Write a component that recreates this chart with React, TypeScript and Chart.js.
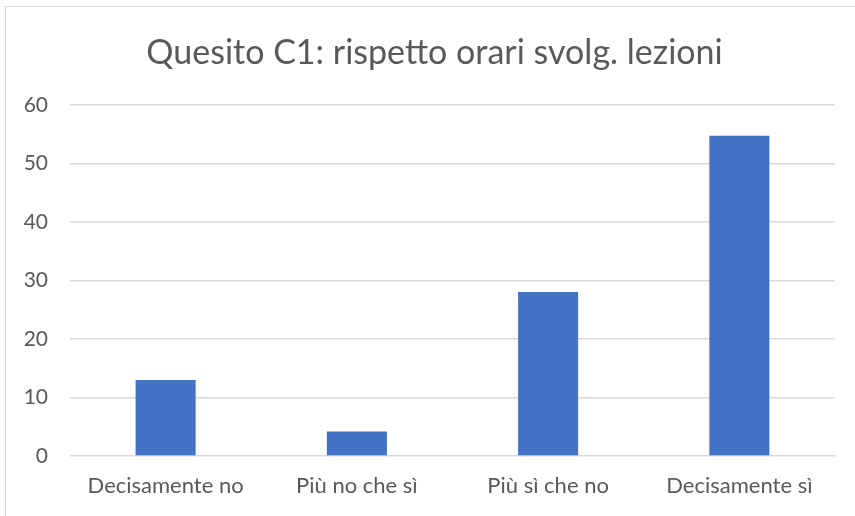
import React, { useEffect, useRef } from "react";
import { Chart, registerables } from "chart.js";

Chart.register(...registerables);

const categories = ["Decisamente no", "Più no che sì", "Più sì che no", "Decisamente sì"];
const values = [13, 4.2, 28, 54.7];
const titleText = "Quesito C1: rispetto orari svolg. lezioni";
const yMin = 0;
const yMax = 60;
const yStep = 10;

const TEXT = "#595959";
const GRID = "#d9d9d9";
const BAR = "#4472C4";
const FONT = "Lato";

const framePlugin = {
  id: "frame",
  afterLayout(chart: any) {
    const t = chart.titleBlock;
    if (t) {
      t.left = 34;
      t.width = t.right - t.left;
    }
  },
  beforeDraw(chart: any) {
    const ctx = chart.ctx;
    ctx.save();
    ctx.fillStyle = "#ffffff";
    ctx.fillRect(0, 0, chart.width, chart.height);
    ctx.strokeStyle = GRID;
    ctx.lineWidth = 1;
    ctx.strokeRect(5.5, 6.5, chart.width + 20, chart.height + 20);
    ctx.restore();
  },
};

export default function App() {
  const ref = useRef<HTMLCanvasElement | null>(null);
  useEffect(() => {
    document.body.style.margin = "0";
    const canvas = ref.current!;
    const chart = new Chart(canvas, {
      type: "bar",
      data: {
        labels: categories,
        datasets: [
          {
            data: values,
            backgroundColor: BAR,
            borderWidth: 0,
            categoryPercentage: 1,
            barPercentage: 0.314,
          },
        ],
      },
      options: {
        responsive: false,
        animation: false,
        layout: { padding: { left: 0, right: 20, top: 0, bottom: 0 } },
        plugins: {
          legend: { display: false },
          tooltip: { enabled: false },
          title: {
            display: true,
            text: titleText,
            color: TEXT,
            font: { family: FONT, size: 34, weight: "normal" as any, lineHeight: 1.2 },
            padding: { top: 33, bottom: 31 },
          },
        },
        scales: {
          x: {
            grid: { display: false, drawTicks: false },
            border: { display: false },
            ticks: {
              color: TEXT,
              font: { family: FONT, size: 22 },
              padding: 17,
              maxRotation: 0,
              autoSkip: false,
            },
            afterFit: (s: any) => {
              s.height = 60;
            },
          },
          y: {
            min: yMin,
            max: yMax,
            grid: { color: GRID, lineWidth: 1.5, drawTicks: false },
            border: { display: false },
            ticks: {
              stepSize: yStep,
              color: TEXT,
              font: { family: FONT, size: 21 },
              padding: 22,
            },
            afterFit: (s: any) => {
              s.width = 70;
            },
          },
        },
      },
      plugins: [framePlugin],
    });
    return () => chart.destroy();
  }, []);
  return (
    <div style={{ position: "absolute", left: 0, top: 0, width: 855, height: 516 }}>
      <canvas ref={ref} width={855} height={516} />
    </div>
  );
}
